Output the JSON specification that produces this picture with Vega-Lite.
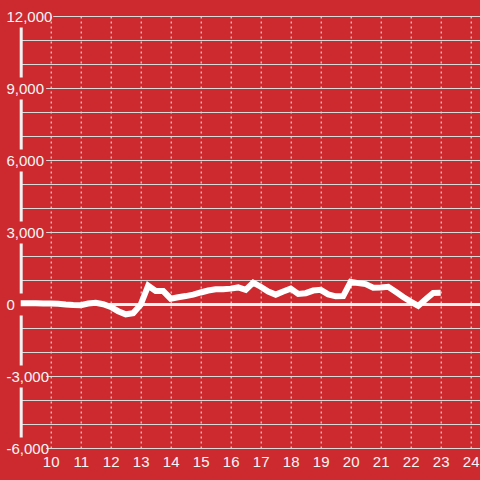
{
  "$schema": "https://vega.github.io/schema/vega-lite/v6.json",
  "width": 459.3,
  "height": 432,
  "autosize": {"type": "none"},
  "padding": {"left": 20.7, "top": 16, "right": 0, "bottom": 32},
  "background": "#cd2a2f",
  "config": {"view": {"stroke": null}, "font": "Liberation Sans"},
  "data": {"values": [
    {"t": 9.00, "v": 30}, {"t": 9.25, "v": 30}, {"t": 9.50, "v": 30}, {"t": 9.75, "v": 25},
    {"t": 10.00, "v": 20}, {"t": 10.25, "v": 10}, {"t": 10.50, "v": -20}, {"t": 10.75, "v": -40},
    {"t": 11.00, "v": -50}, {"t": 11.25, "v": 20}, {"t": 11.50, "v": 50}, {"t": 11.75, "v": -10},
    {"t": 12.00, "v": -120}, {"t": 12.25, "v": -300}, {"t": 12.50, "v": -430}, {"t": 12.75, "v": -380},
    {"t": 13.00, "v": -30}, {"t": 13.25, "v": 760}, {"t": 13.50, "v": 540}, {"t": 13.75, "v": 540},
    {"t": 14.00, "v": 220}, {"t": 14.25, "v": 280}, {"t": 14.50, "v": 330}, {"t": 14.75, "v": 390},
    {"t": 15.00, "v": 480}, {"t": 15.25, "v": 560}, {"t": 15.50, "v": 610}, {"t": 15.75, "v": 610},
    {"t": 16.00, "v": 640}, {"t": 16.25, "v": 690}, {"t": 16.50, "v": 590}, {"t": 16.75, "v": 890},
    {"t": 17.00, "v": 720}, {"t": 17.25, "v": 520}, {"t": 17.50, "v": 390}, {"t": 17.75, "v": 520},
    {"t": 18.00, "v": 640}, {"t": 18.25, "v": 420}, {"t": 18.50, "v": 450}, {"t": 18.75, "v": 560},
    {"t": 19.00, "v": 590}, {"t": 19.25, "v": 400}, {"t": 19.50, "v": 320}, {"t": 19.75, "v": 330},
    {"t": 20.00, "v": 920}, {"t": 20.25, "v": 870}, {"t": 20.50, "v": 830}, {"t": 20.75, "v": 680},
    {"t": 21.00, "v": 690}, {"t": 21.25, "v": 720}, {"t": 21.50, "v": 510}, {"t": 21.75, "v": 290},
    {"t": 22.00, "v": 100}, {"t": 22.25, "v": -80}, {"t": 22.50, "v": 200}, {"t": 22.75, "v": 460},
    {"t": 23.00, "v": 470}
  ]},
  "mark": {"type": "line", "color": "#ffffff", "strokeWidth": 6},
  "encoding": {
    "x": {
      "field": "t", "type": "quantitative",
      "scale": {"domain": [9, 24.31], "nice": false, "zero": false},
      "axis": {
        "title": null, "values": [10, 11, 12, 13, 14, 15, 16, 17, 18, 19, 20, 21, 22, 23, 24],
        "grid": true, "gridColor": "#f2f2f2", "gridDash": [2, 3], "gridWidth": 1,
        "domain": false, "ticks": false, "labelFlush": false, "labelOverlap": false,
        "labelColor": "#f5f5f5", "labelFontSize": 15, "labelPadding": 6
      }
    },
    "y": {
      "field": "v", "type": "quantitative",
      "scale": {"domain": [-6000, 12000], "nice": false, "zero": false},
      "axis": {
        "orient": "left", "title": null,
        "values": [-6000, -5000, -4000, -3000, -2000, -1000, 0, 1000, 2000, 3000, 4000, 5000, 6000, 7000, 8000, 9000, 10000, 11000, 12000],
        "grid": true,
        "gridColor": {"condition": {"test": "datum.value == 0", "value": "#f2f2f2"}, "value": "#d9d9d9"},
        "gridWidth": {"condition": {"test": "datum.value == 0", "value": 3}, "value": 1},
        "gridDash": {
          "condition": [
            {"test": "datum.value == 12000", "value": [0, 32, 1000, 0]},
            {"test": "datum.value % 3000 == 0 && datum.value != 0", "value": [0, 25, 1000, 0]}
          ],
          "value": []
        },
        "ticks": false, "tickSize": 0,
        "domain": true, "domainColor": "#f2f2f2", "domainWidth": 3,
        "domainDash": [50, 22], "domainDashOffset": 61,
        "labelOverlap": false, "labelAlign": "left", "labelPadding": 14.7,
        "labelFontSize": 15, "labelColor": "#f5f5f5",
        "labelExpr": "datum.value % 3000 == 0 ? (datum.value < 0 ? '-' : '') + format(abs(datum.value), ',') : ''",
        "encode": {"labels": {"update": {
          "dx": {"signal": "datum.value < 0 ? -3.5 : (datum.value == 0 ? 2 : 0)"}
        }}}
      }
    }
  }
}
